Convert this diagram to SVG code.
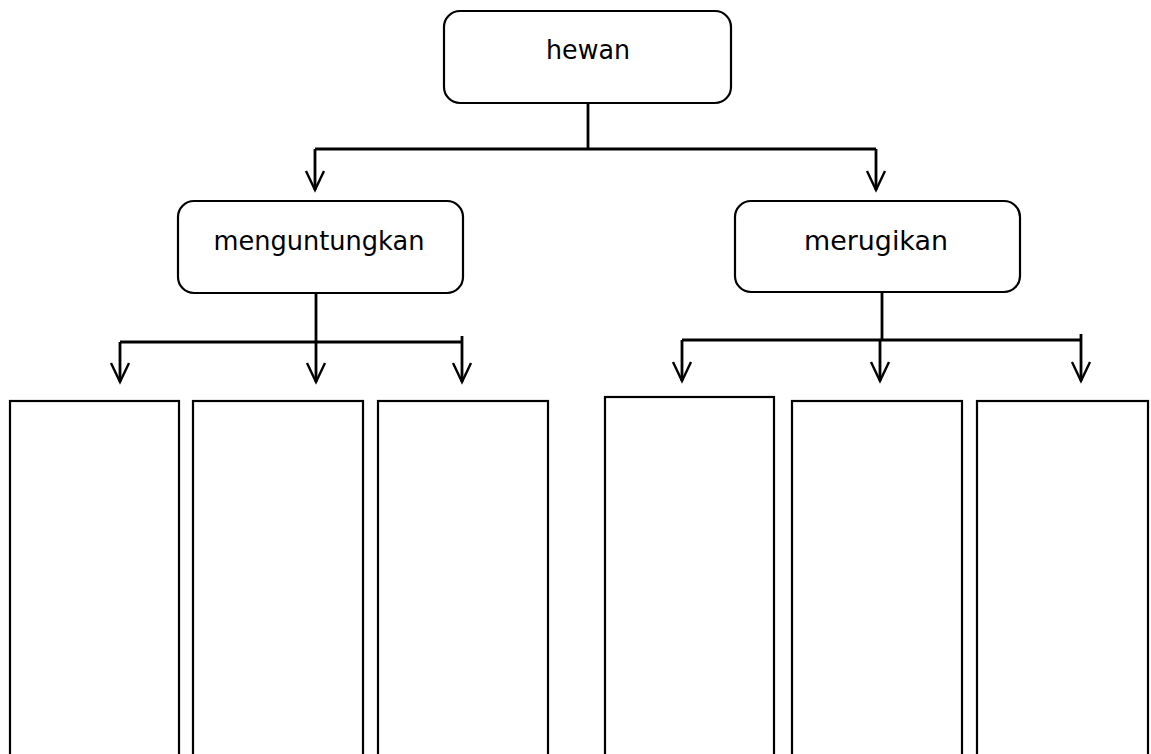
<svg xmlns="http://www.w3.org/2000/svg" width="1151" height="754" viewBox="0 0 1151 754">
<style>
.box{fill:#fff;stroke:#000;stroke-width:2.2}
.lbl{font-family:"DejaVu Sans","Liberation Sans",sans-serif;font-size:27px;fill:#000;text-anchor:middle}
.ln{fill:none;stroke:#000;stroke-width:2.8}
.ah{fill:none;stroke:#000;stroke-width:2.4}
</style>
<rect width="1151" height="754" fill="#fff"/>
<g id="connectors">
<path class="ln" d="M588 103V149M315 149H876M315 149V190M876 149V190"/>
<path class="ah" d="M306 171L315 190L324 171M867 171L876 190L885 171"/>
<path class="ln" d="M316 293V342M120 342H462M120 342V382M316 342V382M462 336V382"/>
<path class="ah" d="M111 363L120 382L129 363M307 363L316 382L325 363M453 363L462 382L471 363"/>
<path class="ln" d="M882 292V340M682 340H1081M682 340V381M880 340V381M1081 334V381"/>
<path class="ah" d="M673 362L682 381L691 362M871 362L880 381L889 362M1072 362L1081 381L1090 362"/>
</g>
<g id="hewan"><rect class="box" x="444" y="11" width="287" height="92" rx="16"/><text class="lbl" x="588" y="59" textLength="84" lengthAdjust="spacingAndGlyphs">hewan</text></g>
<g id="menguntungkan"><rect class="box" x="178" y="201" width="285" height="92" rx="16"/><text class="lbl" x="319" y="250" textLength="211" lengthAdjust="spacingAndGlyphs">menguntungkan</text></g>
<g id="merugikan"><rect class="box" x="735" y="201" width="285" height="91" rx="16"/><text class="lbl" x="876" y="250" textLength="144" lengthAdjust="spacingAndGlyphs">merugikan</text></g>
<g id="box1"><rect class="box" x="10" y="401" width="169" height="360"/></g>
<g id="box2"><rect class="box" x="193" y="401" width="170" height="360"/></g>
<g id="box3"><rect class="box" x="378" y="401" width="170" height="360"/></g>
<g id="box4"><rect class="box" x="605" y="397" width="169" height="364"/></g>
<g id="box5"><rect class="box" x="792" y="401" width="170" height="360"/></g>
<g id="box6"><rect class="box" x="977" y="401" width="171" height="360"/></g>
</svg>
